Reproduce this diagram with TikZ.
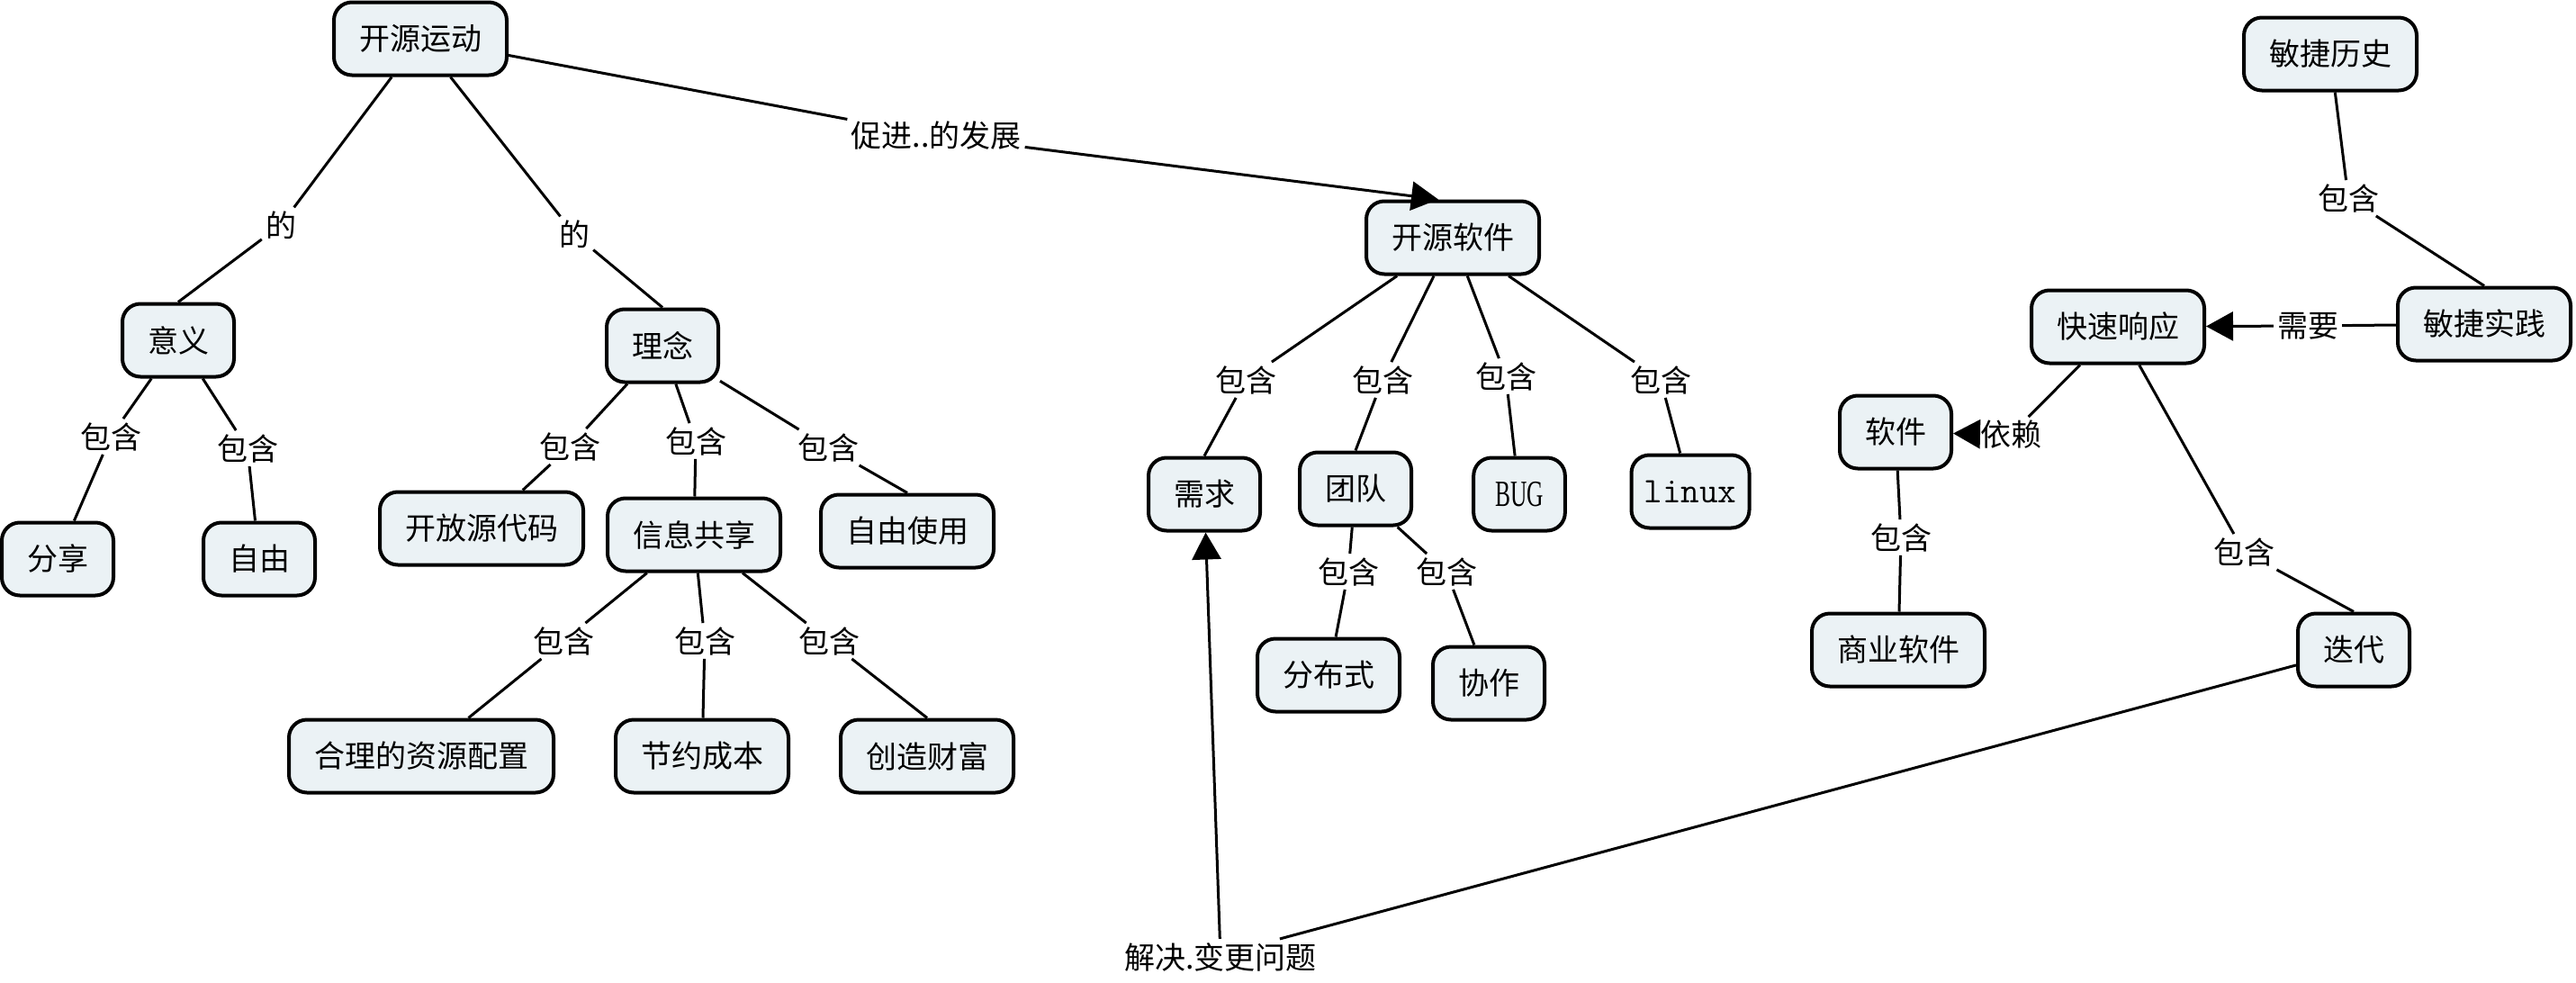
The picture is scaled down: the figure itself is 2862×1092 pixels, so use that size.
\documentclass[tikz,border=0pt]{standalone}
\usepackage{fontspec}
\setmainfont{Noto Sans CJK SC}
\newfontfamily\bugfont[FakeStretch=0.62]{Liberation Serif}
\usetikzlibrary{arrows.meta}
\definecolor{conceptfill}{RGB}{235,242,245}

\begin{document}
\begin{tikzpicture}[x=1pt,y=-1pt,
  concept/.style={draw, line width=4pt, rounded corners=20pt, fill=conceptfill,
    minimum height=81pt, inner xsep=28pt, inner ysep=0pt,
    font=\fontsize{34pt}{40pt}\selectfont},
  linkword/.style={inner sep=4pt, font=\fontsize{34pt}{40pt}\selectfont},
  link/.style={line width=3pt},
  linkarrow/.style={line width=3pt, -{Triangle[length=30pt,width=32pt]}},
]
\useasboundingbox (0,0) rectangle (2862,1092);

% concepts
\node[concept] (kyyd) at (467,43)   {开源运动};
\node[concept] (yy)   at (198,378)  {意义};
\node[concept] (ln)   at (736,384)  {理念};
\node[concept] (fx)   at (64,621)   {分享};
\node[concept] (zy)   at (288,621)  {自由};
\node[concept] (kfdm) at (535,587)  {开放源代码};
\node[concept] (xxgx) at (771,594)  {信息共享};
\node[concept] (zysy) at (1008,590) {自由使用};
\node[concept] (hl)   at (468,840)  {合理的资源配置};
\node[concept] (jy)   at (780,840)  {节约成本};
\node[concept] (cz)   at (1030,840) {创造财富};
\node[concept] (kyrj) at (1614,264) {开源软件};
\node[concept] (xq)   at (1338,549) {需求};
\node[concept] (td)   at (1506,543) {团队};
\node[concept, inner xsep=24pt] (bug) at (1688,549) {\fontsize{41pt}{44pt}\bugfont BUG};
\node[concept, inner xsep=14pt] (linux) at (1878,546) {\fontsize{40pt}{44pt}\ttfamily linux};
\node[concept] (fbs)  at (1476,750) {分布式};
\node[concept] (xz)   at (1654,759) {协作};
\node[concept] (mjls) at (2589,60)  {敏捷历史};
\node[concept] (mjsj) at (2760,360) {敏捷实践};
\node[concept] (ksxy) at (2353,363) {快速响应};
\node[concept] (rj)   at (2106,480) {软件};
\node[concept] (syrj) at (2109,722) {商业软件};
\node[concept] (dd)   at (2615,722) {迭代};

% linking phrases
\node[linkword] (de1) at (312,250)  {的};
\node[linkword] (de2) at (638,260)  {的};
\node[linkword] (cj)  at (1040,151) {促进..的发展};
\node[linkword] (b1)  at (123,485)  {包含};
\node[linkword] (b2)  at (275,498)  {包含};
\node[linkword] (b3)  at (633,496)  {包含};
\node[linkword] (b4)  at (773,490)  {包含};
\node[linkword] (b5)  at (920,497)  {包含};
\node[linkword] (b6)  at (626,712)  {包含};
\node[linkword] (b7)  at (783,712)  {包含};
\node[linkword] (b8)  at (921,712)  {包含};
\node[linkword] (b9)  at (1384,422) {包含};
\node[linkword] (b10) at (1536,422) {包含};
\node[linkword] (b11) at (1673,418) {包含};
\node[linkword] (b12) at (1845,422) {包含};
\node[linkword] (b13) at (1498,635) {包含};
\node[linkword] (b14) at (1607,635) {包含};
\node[linkword] (b15) at (2609,220) {包含};
\node[linkword] (b16) at (2112,597) {包含};
\node[linkword] (b17) at (2493,613) {包含};
\node[linkword] (xy)  at (2564,362) {需要};
\node[linkword] (yl)  at (2234,483) {依赖};
\node[linkword] (jj)  at (1356,1063) {解决.变更问题};

% connectors
\draw[link] (kyyd) -- (de1);
\draw[link] (de1) -- (yy.north);
\draw[link] (kyyd) -- (de2);
\draw[link] (de2) -- (ln.north);
\draw[link] (kyyd) -- (cj);
\draw[linkarrow] (cj) -- ([xshift=-16pt]kyrj.north);

\draw[link] (yy) -- (b1);  \draw[link] (b1) -- (fx);
\draw[link] (yy) -- (b2);  \draw[link] (b2) -- (zy);
\draw[link] (ln) -- (b3);  \draw[link] (b3) -- (kfdm);
\draw[link] (ln) -- (b4);  \draw[link] (b4) -- (xxgx);
\draw[link] (ln) -- (b5);  \draw[link] (b5) -- (zysy.north);
\draw[link] (xxgx) -- (b6); \draw[link] (b6) -- (hl);
\draw[link] (xxgx) -- (b7); \draw[link] (b7) -- (jy);
\draw[link] (xxgx) -- (b8); \draw[link] (b8) -- (cz.north);

\draw[link] (kyrj) -- (b9);  \draw[link] (b9) -- (xq.north);
\draw[link] (kyrj) -- (b10); \draw[link] (b10) -- (td.north);
\draw[link] (kyrj) -- (b11); \draw[link] (b11) -- (bug);
\draw[link] (kyrj) -- (b12); \draw[link] (b12) -- (linux);
\draw[link] (td) -- (b13);   \draw[link] (b13) -- (fbs);
\draw[link] (td) -- (b14);   \draw[link] (b14) -- (xz);

\draw[link] (mjls) -- (b15); \draw[link] (b15) -- (mjsj.north);
\draw[link] (mjsj) -- (xy);  \draw[linkarrow] (xy) -- (ksxy);
\draw[link] (ksxy) -- (yl);  \draw[linkarrow] (yl) -- (rj);
\draw[link] (rj) -- (b16);   \draw[link] (b16) -- (syrj);
\draw[link] (ksxy) -- (b17); \draw[link] (b17) -- (dd.north);
\draw[link] (dd) -- ([xshift=-45pt]jj.north east);
\draw[linkarrow] (jj) -- (xq);
\end{tikzpicture}
\end{document}
